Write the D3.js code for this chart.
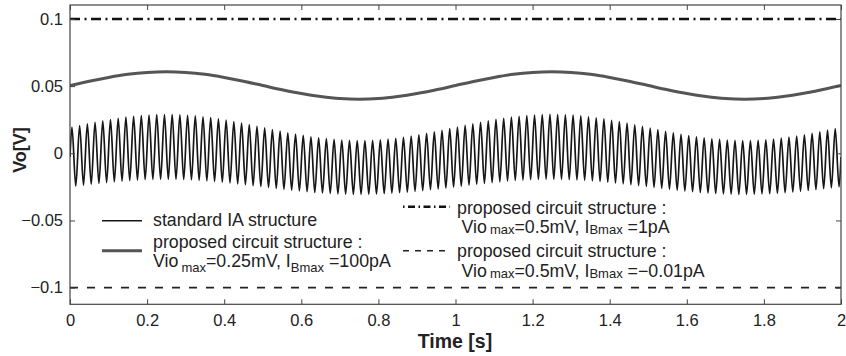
<!DOCTYPE html>
<html>
<head>
<meta charset="utf-8">
<script src="https://cdn.jsdelivr.net/npm/d3@7"></script>
<style>
  body { margin: 0; background: #fff; }
  svg { display: block; font-family: "Liberation Sans", Arial, sans-serif; }
</style>
</head>
<body>
<svg id="chart" width="846" height="356"></svg>
<script>
// ---- data ----
const xTicks = [0, 0.2, 0.4, 0.6, 0.8, 1, 1.2, 1.4, 1.6, 1.8, 2];
const xTickLabels = ["0", "0.2", "0.4", "0.6", "0.8", "1", "1.2", "1.4", "1.6", "1.8", "2"];
const yTicks = [-0.1, -0.05, 0, 0.05, 0.1];
const yTickLabels = ["\u22120.1", "\u22120.05", "0", "0.05", "0.1"];

// standard IA structure: successive peak / trough values [V],
// one every 0.01 s starting at 0.005 s (50 Hz ripple on a slow swing)
const iaExtremes = [
  0.0195,-0.0244,0.0207,-0.0237,0.0219,-0.0230,0.0231,-0.0224,0.0241,-0.0218,
  0.0251,-0.0212,0.0261,-0.0207,0.0269,-0.0203,0.0275,-0.0199,0.0281,-0.0196,
  0.0285,-0.0194,0.0288,-0.0193,0.0289,-0.0193,0.0289,-0.0194,0.0287,-0.0195,
  0.0283,-0.0198,0.0278,-0.0201,0.0272,-0.0205,0.0265,-0.0209,0.0256,-0.0215,
  0.0247,-0.0220,0.0236,-0.0227,0.0225,-0.0233,0.0213,-0.0240,0.0201,-0.0247,
  0.0189,-0.0254,0.0177,-0.0261,0.0165,-0.0268,0.0153,-0.0274,0.0143,-0.0280,
  0.0133,-0.0286,0.0123,-0.0291,0.0115,-0.0295,0.0109,-0.0299,0.0103,-0.0302,
  0.0099,-0.0304,0.0096,-0.0305,0.0095,-0.0305,0.0095,-0.0304,0.0097,-0.0303,
  0.0101,-0.0300,0.0106,-0.0297,0.0112,-0.0293,0.0119,-0.0289,0.0128,-0.0283,
  0.0137,-0.0278,0.0148,-0.0271,0.0159,-0.0265,0.0171,-0.0258,0.0183,-0.0251,
  0.0196,-0.0245,0.0208,-0.0237,0.0220,-0.0231,0.0231,-0.0224,0.0242,-0.0218,
  0.0252,-0.0212,0.0261,-0.0206,0.0269,-0.0202,0.0276,-0.0199,0.0281,-0.0196,
  0.0285,-0.0194,0.0288,-0.0192,0.0290,-0.0193,0.0289,-0.0194,0.0287,-0.0196,
  0.0284,-0.0198,0.0279,-0.0201,0.0272,-0.0205,0.0264,-0.0210,0.0256,-0.0215,
  0.0246,-0.0221,0.0236,-0.0227,0.0224,-0.0234,0.0212,-0.0240,0.0200,-0.0247,
  0.0188,-0.0254,0.0176,-0.0261,0.0164,-0.0268,0.0153,-0.0275,0.0142,-0.0281,
  0.0132,-0.0286,0.0123,-0.0291,0.0115,-0.0296,0.0108,-0.0299,0.0103,-0.0302,
  0.0099,-0.0304,0.0096,-0.0306,0.0095,-0.0305,0.0095,-0.0304,0.0097,-0.0302,
  0.0101,-0.0300,0.0106,-0.0297,0.0113,-0.0293,0.0120,-0.0288,0.0128,-0.0283,
  0.0138,-0.0277,0.0149,-0.0271,0.0160,-0.0264,0.0172,-0.0257,0.0184,-0.0250
];
const iaStart = -0.0027;   // level at t = 0 s
const iaEnd = -0.0027;     // level at t = 2 s

// proposed structure, Vio 0.25 mV / IB 100 pA, sampled every 0.05 s
const prop025Values = [
  0.0505,0.0537,0.0565,0.0588,0.0602,0.0607,0.0602,0.0588,0.0565,0.0537,
  0.0505,0.0473,0.0445,0.0423,0.0408,0.0403,0.0408,0.0423,0.0445,0.0473,
  0.0505,0.0537,0.0565,0.0588,0.0602,0.0607,0.0602,0.0588,0.0565,0.0537,
  0.0505,0.0473,0.0445,0.0423,0.0408,0.0403,0.0408,0.0423,0.0445,0.0473,0.0505
];
// proposed structure, Vio 0.5 mV: constant outputs
const prop1pALevel = 0.1;
const propNegLevel = -0.1;
const timeSpan = [0, 2];

// ---- layout ----
const svg = d3.select("#chart");
const plot = { left: 70, right: 841, top: 5, bottom: 304.3 };

const x = d3.scaleLinear().domain([0, 2]).range([plot.left, plot.right]);
const y = d3.scaleLinear().domain([-0.1124, 0.1104]).range([plot.bottom, plot.top]);

// series point lists
const iaPoints = [[0, iaStart]]
  .concat(iaExtremes.map((v, i) => [0.005 + 0.01 * i, v]))
  .concat([[2, iaEnd]]);
const propPoints = prop025Values.map((v, i) => [i * 0.05, v]);

svg.append("clipPath").attr("id", "plotClip")
  .append("rect")
  .attr("x", plot.left).attr("y", plot.top)
  .attr("width", plot.right - plot.left).attr("height", plot.bottom - plot.top);

const g = svg.append("g").attr("clip-path", "url(#plotClip)");

// standard IA trace
g.append("path")
  .datum(iaPoints)
  .attr("fill", "none")
  .attr("stroke", "#161616")
  .attr("stroke-width", 1.7)
  .attr("d", d3.line().x(d => x(d[0])).y(d => y(d[1])).curve(d3.curveMonotoneX));

// proposed 0.25 mV trace
g.append("path")
  .datum(propPoints)
  .attr("fill", "none")
  .attr("stroke", "#555")
  .attr("stroke-width", 3)
  .attr("d", d3.line().x(d => x(d[0])).y(d => y(d[1])).curve(d3.curveCatmullRom));

// constant outputs
g.append("line")
  .attr("x1", x(timeSpan[0])).attr("x2", x(timeSpan[1]))
  .attr("y1", y(prop1pALevel)).attr("y2", y(prop1pALevel))
  .attr("stroke", "#111").attr("stroke-width", 2.6).attr("stroke-dasharray", "10,4.5,2,4.5");
g.append("line")
  .attr("x1", x(timeSpan[0])).attr("x2", x(timeSpan[1]))
  .attr("y1", y(propNegLevel)).attr("y2", y(propNegLevel))
  .attr("stroke", "#222").attr("stroke-width", 1.7).attr("stroke-dasharray", "8,9");

// ---- axes (box with inward ticks) ----
const axisColor = "#444";
const tickLen = 5;

const axBottom = svg.append("g").attr("transform", `translate(0,${plot.bottom})`)
  .call(d3.axisBottom(x).tickValues(xTicks).tickSizeInner(-tickLen).tickSizeOuter(0)
        .tickPadding(10).tickFormat((d, i) => xTickLabels[i]));
const axTop = svg.append("g").attr("transform", `translate(0,${plot.top})`)
  .call(d3.axisTop(x).tickValues(xTicks).tickSizeInner(-tickLen).tickSizeOuter(0).tickFormat(""));
const axLeft = svg.append("g").attr("transform", `translate(${plot.left},0)`)
  .call(d3.axisLeft(y).tickValues(yTicks).tickSizeInner(-tickLen).tickSizeOuter(0)
        .tickPadding(7).tickFormat((d, i) => yTickLabels[i]));
const axRight = svg.append("g").attr("transform", `translate(${plot.right},0)`)
  .call(d3.axisRight(y).tickValues(yTicks).tickSizeInner(-tickLen).tickSizeOuter(0).tickFormat(""));

[axBottom, axTop, axLeft, axRight].forEach(a => {
  a.select(".domain").remove();
  a.selectAll(".tick line").attr("stroke", axisColor);
  a.selectAll("text").attr("fill", "#222").style("font-size", "16.5px")
    .style("font-family", '"Liberation Sans", Arial, sans-serif');
});

svg.append("rect")
  .attr("x", plot.left).attr("y", plot.top)
  .attr("width", plot.right - plot.left).attr("height", plot.bottom - plot.top)
  .attr("fill", "none").attr("stroke", axisColor).attr("stroke-width", 1.2);

// axis titles
svg.append("text")
  .attr("x", 455).attr("y", 347.5)
  .attr("text-anchor", "middle").attr("fill", "#222")
  .style("font-size", "19.5px").style("font-weight", "bold")
  .text("Time [s]");
svg.append("text")
  .attr("transform", "translate(26,150) rotate(-90)")
  .attr("text-anchor", "middle").attr("fill", "#222")
  .style("font-size", "18px").style("font-weight", "bold")
  .text("Vo[V]");

// ---- legend ----
const leg = svg.append("g").attr("fill", "#222").style("font-size", "17.8px");
const subSize = "13px";

function legLine(x1, x2, yy, stroke, width, dash) {
  leg.append("line").attr("x1", x1).attr("x2", x2).attr("y1", yy).attr("y2", yy)
    .attr("stroke", stroke).attr("stroke-width", width)
    .attr("stroke-dasharray", dash || null);
}
function legText(xx, yy, parts) {
  const t = leg.append("text").attr("x", xx).attr("y", yy);
  parts.forEach(p => {
    const s = t.append("tspan").text(p.t);
    if (p.size) s.style("font-size", p.size);
    if (p.dy) s.attr("dy", p.dy);
    if (p.dx) s.attr("dx", p.dx);
  });
}

// left column
legLine(102, 142, 220.7, "#161616", 1.5);
legText(153, 226, [{ t: "standard IA structure" }]);

legLine(102, 142, 250.7, "#555", 3);
legText(153, 248.3, [{ t: "proposed circuit structure :" }]);
legText(153, 267.3, [
  { t: "Vio" },
  { t: "max", size: subSize, dy: 4.5, dx: 3 },
  { t: "=0.25mV, I", dy: -4.5 },
  { t: "Bmax", size: subSize, dy: 4.5 },
  { t: " =100pA", dy: -4.5 }
]);

// right column
legLine(403, 450, 206.7, "#111", 2.6, "1.5,3.5,7,3.5");
legText(457, 214.3, [{ t: "proposed circuit structure :" }]);
legText(461.5, 233.3, [
  { t: "Vio" },
  { t: "max", size: subSize, dy: 1, dx: 3 },
  { t: "=0.5mV, I", dy: -1 },
  { t: "Bmax", size: subSize, dy: 1 },
  { t: "  =1pA", dy: -1 }
]);

legLine(403, 450, 250.7, "#222", 1.4, "6,6");
legText(457, 257.3, [{ t: "proposed circuit structure :" }]);
legText(461.5, 276.7, [
  { t: "Vio" },
  { t: "max", size: subSize, dy: 1, dx: 3 },
  { t: "=0.5mV, I", dy: -1 },
  { t: "Bmax", size: subSize, dy: 1 },
  { t: " =\u22120.01pA", dy: -1 }
]);
</script>
</body>
</html>
